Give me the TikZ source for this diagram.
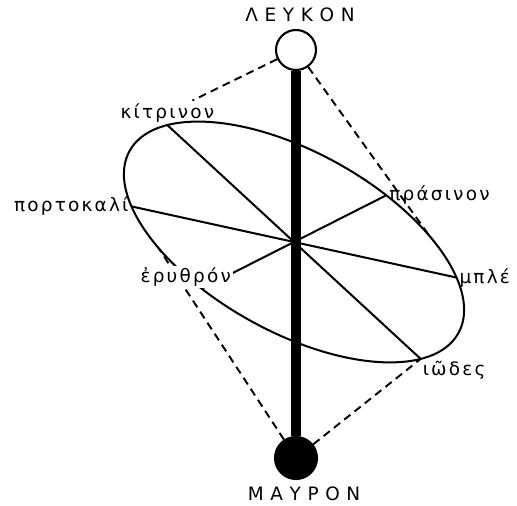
\documentclass[tikz,border=0pt]{standalone}
\usepackage{fontspec}
\setmainfont{DejaVu Sans}
\newfontfamily\lowgr[LetterSpace=12]{DejaVu Sans}
\newfontfamily\capgr[LetterSpace=36]{DejaVu Sans}
\begin{document}
\begin{tikzpicture}[x=0.02cm, y=0.02cm,
  spoke/.style={line width=1.15pt},
  hiddenedge/.style={line width=1.1pt, dash pattern=on 4.5pt off 3pt},
  pole/.style={circle, draw, line width=1.2pt, minimum size=0.8cm, inner sep=0pt},
  huelabel/.style={font=\lowgr\fontsize{10.5}{12}\selectfont, inner sep=1.5pt},
  polelabel/.style={font=\capgr\fontsize{10.5}{12}\selectfont, inner sep=0pt}]
\useasboundingbox (0,0) rectangle (517,506);
\coordinate (O) at (294,264);
% colour circle
\begin{scope}[shift={(O)}, rotate=-29]
  \draw[spoke] (0,0) ellipse [x radius=3.76cm, y radius=1.8cm];
  \coordinate (kit)  at (153:3.76cm and 1.8cm);
  \coordinate (port) at (212:3.76cm and 1.8cm);
  \coordinate (era)  at (252:3.76cm and 1.8cm);
  \coordinate (iod)  at (333:3.76cm and 1.8cm);
  \coordinate (ble)  at (32:3.76cm and 1.8cm);
  \coordinate (pras) at (72:3.76cm and 1.8cm);
  \coordinate (tr)   at (52:3.76cm and 1.8cm);
  \coordinate (bl)   at (232:3.76cm and 1.8cm);
\end{scope}
% poles and axis
\node[pole, fill=white] (white) at (296,456) {};
\node[pole, fill=black, minimum size=0.84cm] (black) at (296,48) {};
\draw[line width=5.6pt] (white) -- (black);
\node[polelabel] (leukon) at (300,491) {ΛΕΥΚΟΝ};
\node[polelabel] (mauron) at (304,12) {ΜΑΥΡΟΝ};
% diameters
\draw[spoke] (kit) -- (iod);
\draw[spoke] (port) -- (ble);
\draw[spoke] (era) -- (pras);
% dashed cone edges
\draw[hiddenedge] (white) -- (tr);
\draw[hiddenedge] (black) -- (bl);
\draw[hiddenedge] (black) -- (iod);
% colour names
\node[huelabel, above] (kitname) at (kit) {κίτρινον};
\node[huelabel, left] (portname) at (port) {πορτοκαλί};
\node[huelabel, right] (prasname) at (pras) {πράσινον};
\node[huelabel, above, xshift=-0.32cm, fill=white, inner sep=1pt] (eraname) at (era) {ἐρυθρόν};
\node[huelabel, right] (blename) at (ble) {μπλέ};
\node[huelabel, below right, inner sep=1pt] (iodname) at (iod) {ιῶδες};
\draw[hiddenedge] (white) -- (kitname);
\end{tikzpicture}
\end{document}
